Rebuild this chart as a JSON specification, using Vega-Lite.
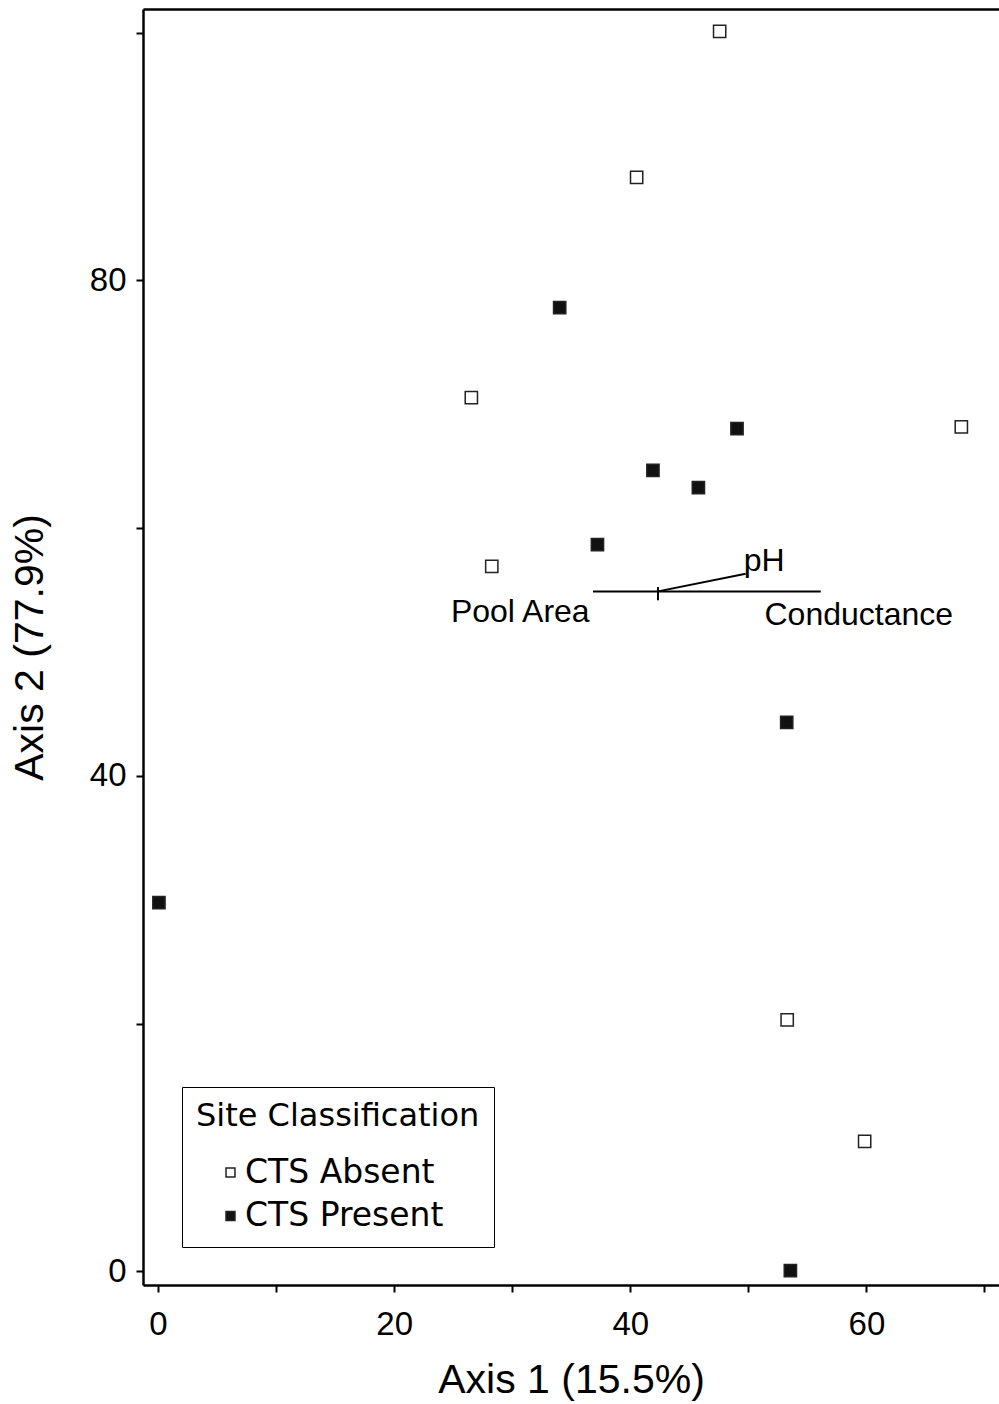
{
  "$schema": "https://vega.github.io/schema/vega-lite/v6.json",
  "width": 856,
  "height": 1276,
  "autosize": {"type": "none"},
  "padding": {"left": 143, "top": 9, "right": 0, "bottom": 119},
  "background": "white",
  "config": {
    "view": {"stroke": "transparent", "strokeWidth": 0},
    "font": "Liberation Sans",
    "axis": {
      "domainColor": "black",
      "domainWidth": 2.5,
      "tickColor": "black",
      "tickWidth": 2,
      "tickSize": 7,
      "labelFont": "Liberation Sans",
      "labelFontSize": 33,
      "labelColor": "black",
      "titleFont": "Liberation Sans",
      "titleFontSize": 41,
      "titleFontWeight": "normal",
      "titleColor": "black",
      "grid": false,
      "labelFlush": false,
      "labelOverlap": false
    }
  },
  "datasets": {
    "sites": [
      {"class": "CTS Absent", "x": 47.57, "y": 100.1},
      {"class": "CTS Absent", "x": 40.54, "y": 88.3},
      {"class": "CTS Absent", "x": 26.54, "y": 70.53},
      {"class": "CTS Absent", "x": 68.04, "y": 68.16},
      {"class": "CTS Absent", "x": 28.27, "y": 56.91},
      {"class": "CTS Absent", "x": 53.29, "y": 20.3},
      {"class": "CTS Absent", "x": 59.85, "y": 10.49},
      {"class": "CTS Present", "x": 34.02, "y": 77.8},
      {"class": "CTS Present", "x": 49.04, "y": 68.03},
      {"class": "CTS Present", "x": 41.92, "y": 64.66},
      {"class": "CTS Present", "x": 45.77, "y": 63.27},
      {"class": "CTS Present", "x": 37.22, "y": 58.66},
      {"class": "CTS Present", "x": 53.25, "y": 44.32},
      {"class": "CTS Present", "x": 0.08, "y": 29.76},
      {"class": "CTS Present", "x": 53.56, "y": 0.06}
    ],
    "vectors": [
      {"vector": "Pool Area - Conductance", "x": 36.84, "y": 54.89, "x2": 56.13, "y2": 54.89},
      {"vector": "pH", "x": 42.35, "y": 54.89, "x2": 49.77, "y2": 56.32},
      {"vector": "centroid", "x": 42.35, "y": 54.17, "x2": 42.35, "y2": 55.24}
    ],
    "labels": [
      {"label": "pH", "x": 49.61, "y": 57.32},
      {"label": "Pool Area", "x": 36.56, "y": 53.2},
      {"label": "Conductance", "x": 51.37, "y": 53.0}
    ]
  },
  "resolve": {"axis": {"x": "independent", "y": "independent"}},
  "layer": [
    {
      "data": {"name": "sites"},
      "mark": {"type": "point", "shape": "square", "filled": true, "size": 150, "stroke": "#222222", "strokeWidth": 1.5, "opacity": 1},
      "encoding": {
        "x": {
          "field": "x", "type": "quantitative",
          "scale": {"domain": [-1.27, 71.23], "nice": false, "zero": false},
          "axis": {
            "orient": "bottom",
            "title": "Axis 1 (15.5%)",
            "values": [0, 10, 20, 30, 40, 50, 60, 70],
            "labelExpr": "datum.value % 20 === 0 ? datum.label : ''",
            "labelPadding": 16,
            "titlePadding": 19
          }
        },
        "y": {
          "field": "y", "type": "quantitative",
          "scale": {"domain": [-1.1, 101.9], "nice": false, "zero": false},
          "axis": {
            "orient": "left",
            "title": "Axis 2 (77.9%)",
            "values": [0, 20, 40, 60, 80, 100],
            "labelExpr": "datum.value % 40 === 0 ? datum.label : ''",
            "labelPadding": 10,
            "titlePadding": 38
          }
        },
        "fill": {
          "field": "class", "type": "nominal",
          "scale": {"domain": ["CTS Absent", "CTS Present"], "range": ["#ffffff", "#111111"]},
          "legend": {
            "orient": "none",
            "legendX": 39,
            "legendY": 1078,
            "title": "Site Classification",
            "titleFont": "DejaVu Sans",
            "titleFontSize": 32,
            "titleFontWeight": "normal",
            "titleColor": "black",
            "titleAnchor": "start",
            "titlePadding": 23,
            "titleLimit": 600,
            "labelFont": "DejaVu Sans",
            "labelFontSize": 33,
            "labelColor": "black",
            "labelLimit": 600,
            "labelOffset": -2,
            "symbolType": "square",
            "symbolSize": 80,
            "symbolStrokeColor": "#222222",
            "symbolStrokeWidth": 1.5,
            "symbolOffset": 18,
            "rowPadding": 9.5,
            "padding": 14,
            "strokeColor": "black",
            "fillColor": "white",
            "cornerRadius": 0
          }
        }
      }
    },
    {
      "data": {"name": "vectors"},
      "mark": {"type": "rule", "color": "black", "strokeWidth": 2},
      "encoding": {
        "x": {
          "field": "x", "type": "quantitative",
          "scale": {"domain": [-1.27, 71.23], "nice": false, "zero": false},
          "axis": {"orient": "top", "title": null, "labels": false, "ticks": false, "domain": true}
        },
        "y": {
          "field": "y", "type": "quantitative",
          "scale": {"domain": [-1.1, 101.9], "nice": false, "zero": false},
          "axis": null
        },
        "x2": {"field": "x2"},
        "y2": {"field": "y2"}
      }
    },
    {
      "data": {"name": "labels"},
      "transform": [{"filter": "datum.label !== 'Pool Area'"}],
      "mark": {"type": "text", "align": "left", "baseline": "middle", "font": "Liberation Sans", "fontSize": 32, "color": "black"},
      "encoding": {
        "x": {"field": "x", "type": "quantitative", "scale": {"domain": [-1.27, 71.23], "nice": false, "zero": false}, "axis": null},
        "y": {"field": "y", "type": "quantitative", "scale": {"domain": [-1.1, 101.9], "nice": false, "zero": false}, "axis": null},
        "text": {"field": "label"}
      }
    },
    {
      "data": {"name": "labels"},
      "transform": [{"filter": "datum.label === 'Pool Area'"}],
      "mark": {"type": "text", "align": "right", "baseline": "middle", "font": "Liberation Sans", "fontSize": 32, "color": "black"},
      "encoding": {
        "x": {"field": "x", "type": "quantitative", "scale": {"domain": [-1.27, 71.23], "nice": false, "zero": false}, "axis": null},
        "y": {"field": "y", "type": "quantitative", "scale": {"domain": [-1.1, 101.9], "nice": false, "zero": false}, "axis": null},
        "text": {"field": "label"}
      }
    }
  ]
}
